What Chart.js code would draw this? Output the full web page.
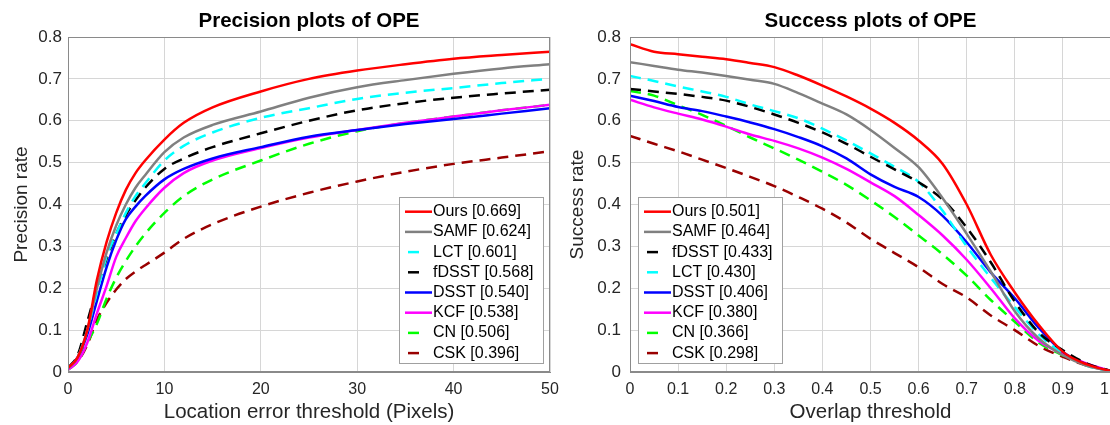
<!DOCTYPE html>
<html>
<head>
<meta charset="utf-8">
<script src="https://cdn.jsdelivr.net/npm/chart.js@4.4.1/dist/chart.umd.min.js"></script>
<style>
  html, body { margin: 0; padding: 0; background: #fff; overflow: hidden; width: 1110px; height: 425px; }
  .plot { position: absolute; top: 0; height: 425px; }
  #left { left: 0; width: 580px; }
  #right { left: 555px; width: 580px; }
</style>
</head>
<body>
<div class="plot" id="left"><canvas id="prec"></canvas></div>
<div class="plot" id="right"><canvas id="succ"></canvas></div>
<script>
var FONT = "'Liberation Sans', Arial, Helvetica, sans-serif";

// precision plot: location error threshold (pixels)
var precX = [0, 1, 2, 3, 4, 5, 6, 7, 8, 10, 12, 15, 20, 25, 30, 35, 40, 45, 50];
var precNames = ['Ours', 'SAMF', 'LCT', 'fDSST', 'DSST', 'KCF', 'CN', 'CSK'];
var precScores = ['0.669', '0.624', '0.601', '0.568', '0.540', '0.538', '0.506', '0.396'];
var precOurs  = [0.01, 0.035, 0.10, 0.22, 0.31, 0.38, 0.435, 0.475, 0.505, 0.555, 0.595, 0.632, 0.67, 0.70, 0.72, 0.735, 0.748, 0.757, 0.765];
var precSAMF  = [0.01, 0.035, 0.10, 0.20, 0.285, 0.35, 0.40, 0.44, 0.47, 0.525, 0.56, 0.59, 0.622, 0.655, 0.68, 0.697, 0.712, 0.725, 0.735];
var precLCT   = [0.01, 0.035, 0.10, 0.19, 0.275, 0.33, 0.38, 0.42, 0.45, 0.505, 0.54, 0.572, 0.607, 0.63, 0.652, 0.667, 0.678, 0.69, 0.70];
var precFDSST = [0.01, 0.04, 0.12, 0.20, 0.27, 0.33, 0.375, 0.41, 0.44, 0.485, 0.51, 0.537, 0.57, 0.60, 0.625, 0.642, 0.655, 0.665, 0.674];
var precDSST  = [0.01, 0.035, 0.09, 0.17, 0.25, 0.315, 0.365, 0.395, 0.42, 0.46, 0.485, 0.51, 0.537, 0.562, 0.578, 0.592, 0.604, 0.617, 0.63];
var precKCF   = [0.005, 0.025, 0.07, 0.14, 0.205, 0.275, 0.32, 0.36, 0.39, 0.44, 0.475, 0.505, 0.535, 0.56, 0.578, 0.595, 0.61, 0.625, 0.638];
var precCN    = [0.005, 0.025, 0.07, 0.115, 0.175, 0.225, 0.265, 0.30, 0.33, 0.38, 0.42, 0.46, 0.505, 0.545, 0.575, 0.595, 0.61, 0.625, 0.638];
var precCSK   = [0.01, 0.025, 0.065, 0.125, 0.165, 0.197, 0.222, 0.24, 0.255, 0.285, 0.318, 0.353, 0.395, 0.428, 0.455, 0.478, 0.497, 0.512, 0.527];

// success plot: overlap threshold
var succX = [0, 0.05, 0.1, 0.15, 0.2, 0.25, 0.3, 0.35, 0.4, 0.45, 0.5, 0.55, 0.6, 0.65, 0.7, 0.75, 0.8, 0.85, 0.9, 0.95, 1];
var succNames = ['Ours', 'SAMF', 'fDSST', 'LCT', 'DSST', 'KCF', 'CN', 'CSK'];
var succScores = ['0.501', '0.464', '0.433', '0.430', '0.406', '0.380', '0.366', '0.298'];
var succOurs  = [0.783, 0.765, 0.759, 0.753, 0.747, 0.738, 0.728, 0.708, 0.684, 0.658, 0.629, 0.595, 0.553, 0.497, 0.40, 0.28, 0.19, 0.112, 0.048, 0.018, 0.002];
var succSAMF  = [0.74, 0.731, 0.722, 0.715, 0.707, 0.698, 0.688, 0.666, 0.641, 0.615, 0.578, 0.535, 0.489, 0.415, 0.33, 0.24, 0.145, 0.08, 0.04, 0.015, 0.002];
var succFDSST = [0.676, 0.67, 0.664, 0.657, 0.648, 0.633, 0.615, 0.595, 0.572, 0.545, 0.514, 0.484, 0.453, 0.412, 0.345, 0.262, 0.168, 0.094, 0.052, 0.02, 0.002];
var succLCT   = [0.707, 0.695, 0.682, 0.67, 0.657, 0.639, 0.623, 0.606, 0.581, 0.553, 0.522, 0.49, 0.454, 0.385, 0.30, 0.225, 0.155, 0.09, 0.045, 0.015, 0.002];
var succDSST  = [0.66, 0.647, 0.633, 0.623, 0.61, 0.596, 0.58, 0.561, 0.539, 0.51, 0.472, 0.442, 0.418, 0.373, 0.31, 0.238, 0.176, 0.105, 0.048, 0.018, 0.002];
var succKCF   = [0.65, 0.632, 0.617, 0.603, 0.586, 0.567, 0.552, 0.534, 0.512, 0.485, 0.453, 0.42, 0.375, 0.326, 0.268, 0.2, 0.128, 0.074, 0.043, 0.02, 0.002];
var succCN    = [0.671, 0.66, 0.637, 0.614, 0.588, 0.56, 0.534, 0.507, 0.478, 0.447, 0.41, 0.37, 0.326, 0.281, 0.23, 0.172, 0.12, 0.07, 0.04, 0.018, 0.002];
var succCSK   = [0.564, 0.545, 0.527, 0.507, 0.487, 0.466, 0.444, 0.418, 0.39, 0.357, 0.318, 0.284, 0.25, 0.21, 0.178, 0.135, 0.1, 0.062, 0.036, 0.015, 0.002];

var lineStyle = {
    Ours:  { color: '#ff0000', dash: [] },
    SAMF:  { color: '#808080', dash: [] },
    LCT:   { color: '#00ffff', dash: [11, 7] },
    fDSST: { color: '#000000', dash: [11, 7] },
    DSST:  { color: '#0000ff', dash: [] },
    KCF:   { color: '#ff00ff', dash: [] },
    CN:    { color: '#00ff00', dash: [11, 7] },
    CSK:   { color: '#990000', dash: [11, 7] }
};

function makeDatasets(xs, names, scores, series) {
    return names.map(function(name, i) {
        return {
            label: name + ' [' + scores[i] + ']',
            data: xs.map(function(x, j) { return { x: x, y: series[i][j] }; }),
            borderColor: lineStyle[name].color,
            borderDash: lineStyle[name].dash,
            borderWidth: 2.5,
            pointRadius: 0,
            fill: false,
            cubicInterpolationMode: 'monotone'
        };
    });
}

// axes box + legend inside the plot area
var boxLegend = {
    id: 'boxLegend',
    afterDraw: function(chart, args, opts) {
        var ctx = chart.ctx, a = chart.chartArea;
        ctx.save();
        ctx.strokeStyle = '#8a8a8a';
        ctx.lineWidth = 1;
        ctx.strokeRect(Math.round(a.left) + 0.5, Math.round(a.top) + 0.5,
                       Math.round(a.right - a.left) - 1, Math.round(a.bottom - a.top) - 1);

        var w = 144, h = 166, rowH = 20.2;
        var x0 = Math.round(opts.corner === 'se' ? a.right - 7 - w : a.left + 8);
        var y0 = Math.round(a.bottom - 9 - h);
        ctx.fillStyle = '#fff';
        ctx.fillRect(x0, y0, w, h);
        ctx.strokeStyle = '#a0a0a0';
        ctx.strokeRect(x0 + 0.5, y0 + 0.5, w, h);
        ctx.font = '16px ' + FONT;
        ctx.textBaseline = 'middle';
        ctx.textAlign = 'left';
        chart.data.datasets.forEach(function(ds, i) {
            var cy = y0 + 14.7 + i * rowH;
            ctx.strokeStyle = ds.borderColor;
            ctx.lineWidth = 2.5;
            ctx.beginPath();
            if (ds.borderDash.length) {
                ctx.moveTo(x0 + 9, cy); ctx.lineTo(x0 + 20, cy);
            } else {
                ctx.moveTo(x0 + 6, cy); ctx.lineTo(x0 + 33, cy);
            }
            ctx.stroke();
            ctx.fillStyle = '#000';
            ctx.fillText(ds.label, x0 + 34, cy);
        });
        ctx.restore();
    }
};

function makeOptions(cfg) {
    return {
        responsive: true,
        maintainAspectRatio: false,
        animation: false,
        layout: { padding: { left: 0, right: cfg.padRight, top: 0, bottom: 0 } },
        plugins: {
            legend: { display: false },
            tooltip: { enabled: false },
            title: {
                display: true, text: cfg.title, fullSize: false, color: '#000',
                font: { family: FONT, size: 20.5, weight: 'bold' },
                padding: { top: 9, bottom: 3.4 }
            },
            boxLegend: { corner: cfg.corner }
        },
        scales: {
            x: {
                type: 'linear', min: cfg.xMin, max: cfg.xMax,
                ticks: { stepSize: cfg.xStep, color: '#262626', font: { family: FONT, size: 16 }, padding: 8, maxRotation: 0 },
                grid: { color: '#d6d6d6', drawTicks: false },
                border: { color: '#8a8a8a' },
                title: { display: true, text: cfg.xTitle, color: '#262626', font: { family: FONT, size: 20.5 }, padding: { top: 0, bottom: 0 } },
                afterFit: function(s) { s.height = 53; s.paddingLeft = 0; s.paddingRight = 0; }
            },
            y: {
                type: 'linear', min: 0, max: 0.8,
                ticks: { stepSize: 0.1, color: '#262626', font: { family: FONT, size: 17 }, padding: cfg.yTickPad },
                grid: { color: '#d6d6d6', drawTicks: false },
                border: { color: '#8a8a8a' },
                title: { display: true, text: cfg.yTitle, color: '#262626', font: { family: FONT, size: 19 }, padding: { top: cfg.yTitlePad, bottom: 0 } },
                afterFit: function(s) { s.width = cfg.yWidth; s.paddingTop = 0; s.paddingBottom = 0; }
            }
        }
    };
}

new Chart(document.getElementById('prec'), {
    type: 'line',
    data: { datasets: makeDatasets(precX, precNames, precScores,
        [precOurs, precSAMF, precLCT, precFDSST, precDSST, precKCF, precCN, precCSK]) },
    options: makeOptions({
        title: 'Precision plots of OPE', xTitle: 'Location error threshold (Pixels)', yTitle: 'Precision rate',
        xMin: 0, xMax: 50, xStep: 10, padRight: 30, yWidth: 68, yTickPad: 6, yTitlePad: 10, corner: 'se'
    }),
    plugins: [boxLegend]
});

new Chart(document.getElementById('succ'), {
    type: 'line',
    data: { datasets: makeDatasets(succX, succNames, succScores,
        [succOurs, succSAMF, succFDSST, succLCT, succDSST, succKCF, succCN, succCSK]) },
    options: makeOptions({
        title: 'Success plots of OPE', xTitle: 'Overlap threshold', yTitle: 'Success rate',
        xMin: 0, xMax: 1, xStep: 0.1, padRight: 24, yWidth: 75, yTickPad: 9, yTitlePad: 11, corner: 'sw'
    }),
    plugins: [boxLegend]
});
</script>
</body>
</html>
